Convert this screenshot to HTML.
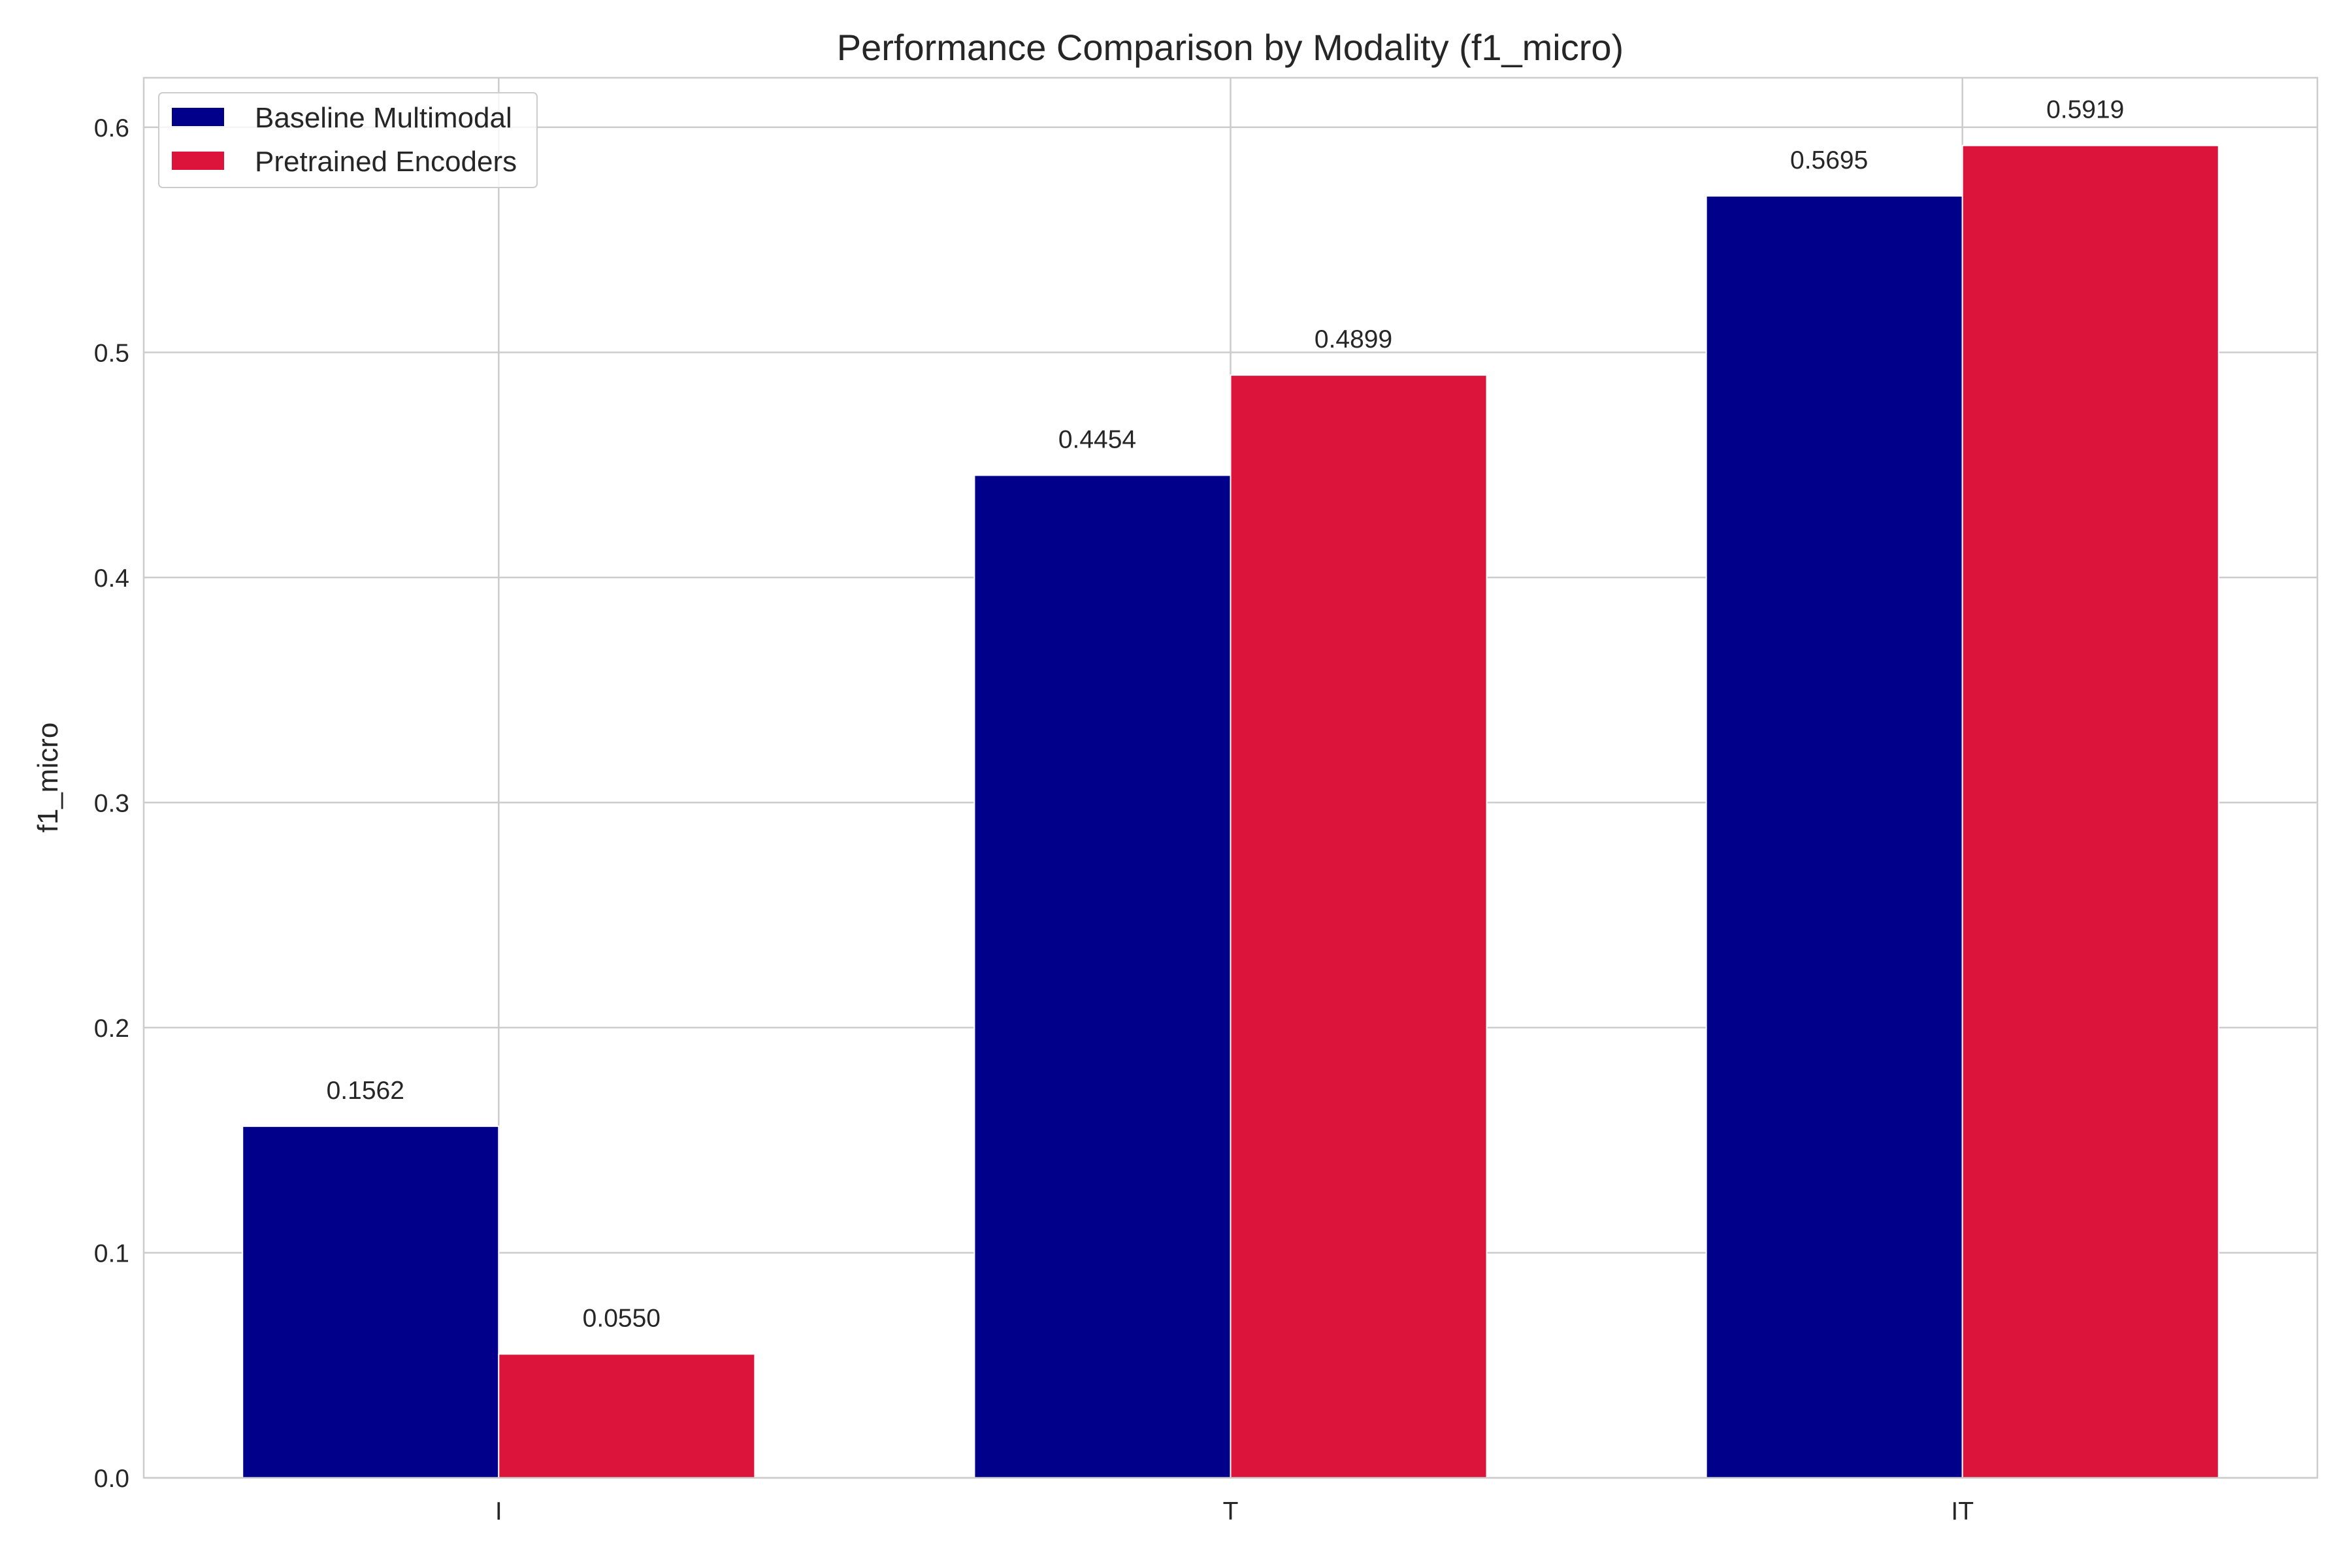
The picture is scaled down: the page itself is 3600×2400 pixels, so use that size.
<!DOCTYPE html>
<html><head><meta charset="utf-8"><style>
html,body{margin:0;padding:0;background:#fff;}
svg{display:block;font-family:"Liberation Sans",Arial,sans-serif;}
</style></head><body>
<svg id="chart" width="3600" height="2400" viewBox="0 0 3600 2400" xmlns="http://www.w3.org/2000/svg">
<rect width="3600" height="2400" fill="#fff"/>
<g id="grid"></g><g id="bars"></g><g id="labels"></g>
<rect x="220" y="119" width="3327" height="2143" fill="none" stroke="#cccccc" stroke-width="2.5"/>
<text x="1883" y="92" font-size="56" text-anchor="middle" fill="#262626">Performance Comparison by Modality (f1_micro)</text>
<text transform="translate(88,1190) rotate(-90)" font-size="44" text-anchor="middle" fill="#262626">f1_micro</text>
<g>
<rect x="243" y="142" width="579" height="145" rx="6" fill="#fff" fill-opacity="0.8" stroke="#cccccc" stroke-width="2"/>
<g><rect x="263" y="165" width="80" height="28" fill="#00008b"/><text x="390" y="195" font-size="44" fill="#262626">Baseline Multimodal</text></g>
<g><rect x="263" y="232" width="80" height="28" fill="#dc143c"/><text x="390" y="262" font-size="44" fill="#262626">Pretrained Encoders</text></g>
</g>
</svg>
<script>
const categories = ["I", "T", "IT"];
const baseline = [0.1562, 0.4454, 0.5695];
const pretrained = [0.0550, 0.4899, 0.5919];
const yTicks = [0.0, 0.1, 0.2, 0.3, 0.4, 0.5, 0.6];
const seriesNames = ["baseline", "pretrained"];
const colors = ["#00008b", "#dc143c"];
const NS = "http://www.w3.org/2000/svg";
const L = 220, R = 3547, T = 119, B = 2262;
const xMin = -0.485, xMax = 2.485, yMin = 0, yMax = 0.622;
const xs = v => L + (v - xMin) / (xMax - xMin) * (R - L);
const ys = v => B - (v - yMin) / (yMax - yMin) * (B - T);
const W = 0.35;
function mk(tag, attrs, parent) { const e = document.createElementNS(NS, tag); for (const k in attrs) e.setAttribute(k, attrs[k]); parent.appendChild(e); return e; }
const grid = document.getElementById("grid"), bars = document.getElementById("bars"), labels = document.getElementById("labels");
yTicks.forEach(t => {
  const y = ys(t);
  const g = mk("line", {x1: L, x2: R, y1: y, y2: y, stroke: "#cccccc", "stroke-width": 2.5}, grid);
  
  
  const tx = mk("text", {x: L - 22, y: y + 14, "font-size": 39, "text-anchor": "end", fill: "#262626"}, labels);
  tx.textContent = t.toFixed(1);
  
  
});
categories.forEach((c, i) => {
  const x = xs(i);
  const g = mk("line", {x1: x, x2: x, y1: T, y2: B, stroke: "#cccccc", "stroke-width": 2.5}, grid);
  
  
  const tx = mk("text", {x: x, y: B + 64, "font-size": 39, "text-anchor": "middle", fill: "#262626"}, labels);
  tx.textContent = c;
  
  
});
[baseline, pretrained].forEach((vals, s) => {
  vals.forEach((v, i) => {
    const x0 = xs(i + (s === 0 ? -W : 0)), x1 = xs(i + (s === 0 ? 0 : W));
    const r = mk("rect", {x: x0, y: ys(v), width: x1 - x0, height: ys(0) - ys(v), fill: colors[s], stroke: "#fff", "stroke-width": 2}, bars);
    
    
    const t = mk("text", {x: (x0 + x1) / 2 - 8, y: ys(v) - 42, "font-size": 39, "text-anchor": "middle", fill: "#262626"}, labels);
    t.textContent = v.toFixed(4);
    
    
  });
});
</script>
</body></html>
